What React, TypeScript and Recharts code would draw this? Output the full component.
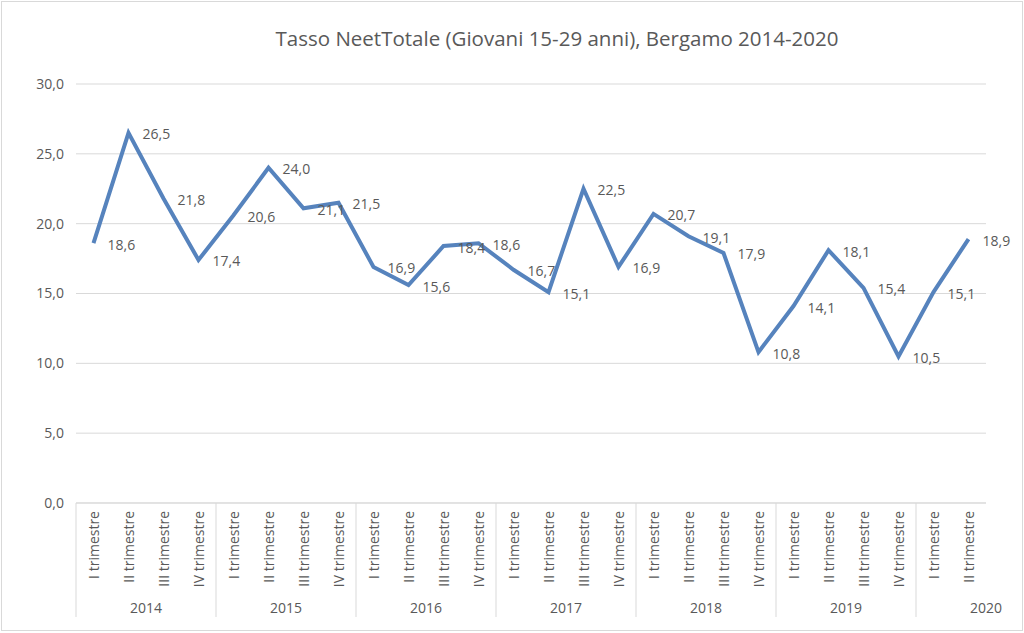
import React from 'react';
import { LineChart, Line, XAxis, YAxis, CartesianGrid, LabelList } from 'recharts';

const quarterLabels = [
  'I trimestre', 'II trimestre', 'III trimestre', 'IV trimestre',
  'I trimestre', 'II trimestre', 'III trimestre', 'IV trimestre',
  'I trimestre', 'II trimestre', 'III trimestre', 'IV trimestre',
  'I trimestre', 'II trimestre', 'III trimestre', 'IV trimestre',
  'I trimestre', 'II trimestre', 'III trimestre', 'IV trimestre',
  'I trimestre', 'II trimestre', 'III trimestre', 'IV trimestre',
  'I trimestre', 'II trimestre',
];
const yearLabels = [
  '2014', '2014', '2014', '2014',
  '2015', '2015', '2015', '2015',
  '2016', '2016', '2016', '2016',
  '2017', '2017', '2017', '2017',
  '2018', '2018', '2018', '2018',
  '2019', '2019', '2019', '2019',
  '2020', '2020',
];
const neetValues = [
  18.6, 26.5, 21.8, 17.4,
  20.6, 24.0, 21.1, 21.5,
  16.9, 15.6, 18.4, 18.6,
  16.7, 15.1, 22.5, 16.9,
  20.7, 19.1, 17.9, 10.8,
  14.1, 18.1, 15.4, 10.5,
  15.1, 18.9,
];
const yTicks = [0, 5, 10, 15, 20, 25, 30];

const data = neetValues.map((v, i) => ({
  key: String(i),
  quarter: quarterLabels[i],
  year: yearLabels[i],
  value: v,
}));

const FONT = '"Open Sans", sans-serif';
const TEXT = '#595959';
const GRID = '#d9d9d9';
const LINE = '#5683bd';
const FS = 14;

const fmt = (v: number) => v.toFixed(1).replace('.', ',');

const CategoryTick = (props: any) => {
  const { x, y, payload } = props;
  const idx = payload.index as number;
  const half = payload.offset ?? 17.5;
  const d = data[idx];
  const isGroupStart = idx === 0 || data[idx - 1].year !== d.year;
  return (
    <g>
      <text
        x={x}
        y={y + 8}
        transform={`rotate(-90 ${x} ${y + 8})`}
        textAnchor="end"
        dominantBaseline="central"
        fill={TEXT}
        fontSize={FS}
        fontFamily={FONT}
      >
        {d.quarter}
      </text>
      {isGroupStart && (
        <>
          <line x1={x - half} x2={x - half} y1={y} y2={y + 114} stroke={GRID} strokeWidth={1} />
          <text
            x={x + 3 * half}
            y={y + 104}
            textAnchor="middle"
            dominantBaseline="central"
            fill={TEXT}
            fontSize={FS}
            fontFamily={FONT}
          >
            {d.year}
          </text>
        </>
      )}
    </g>
  );
};

const ValueLabel = (props: any) => {
  const { x, y, value } = props;
  return (
    <text
      x={x + 14}
      y={y + 1}
      textAnchor="start"
      dominantBaseline="central"
      fill={TEXT}
      fontSize={FS}
      fontFamily={FONT}
    >
      {fmt(value)}
    </text>
  );
};

export default function App() {
  return (
    <div style={{ position: 'absolute', left: 0, top: 0, width: 1024, height: 633, background: '#fff' }}>
      <div
        style={{
          position: 'absolute',
          left: 557,
          top: 24,
          transform: 'translateX(-50%)',
          whiteSpace: 'nowrap',
          fontFamily: FONT,
          fontSize: 20.5,
          lineHeight: '28px',
          color: TEXT,
        }}
      >
        Tasso NeetTotale (Giovani 15-29 anni), Bergamo 2014-2020
      </div>
      <LineChart
        width={1024}
        height={633}
        data={data}
        margin={{ top: 84, right: 38, left: 0, bottom: 0 }}
      >
        <CartesianGrid horizontal vertical={false} stroke={GRID} strokeDasharray="" />
        <XAxis
          dataKey="key"
          type="category"
          scale="band"
          height={130}
          interval={0}
          tickLine={false}
          tickSize={0}
          tickMargin={0}
          axisLine={{ stroke: GRID }}
          tick={<CategoryTick />}
        />
        <YAxis
          width={76}
          domain={[0, 30]}
          ticks={yTicks}
          tickFormatter={fmt}
          axisLine={false}
          tickLine={false}
          tickSize={0}
          tickMargin={12}
          tick={{ fill: TEXT, fontSize: FS, fontFamily: FONT }}
        />
        <Line
          type="linear"
          dataKey="value"
          stroke={LINE}
          strokeWidth={4}
          dot={false}
          activeDot={false}
          isAnimationActive={false}
        >
          <LabelList dataKey="value" content={<ValueLabel />} />
        </Line>
      </LineChart>
      <div
        style={{
          position: 'absolute',
          left: 1,
          top: 1,
          width: 1020,
          height: 628,
          border: '1px solid #d9d9d9',
          pointerEvents: 'none',
        }}
      />
    </div>
  );
}
